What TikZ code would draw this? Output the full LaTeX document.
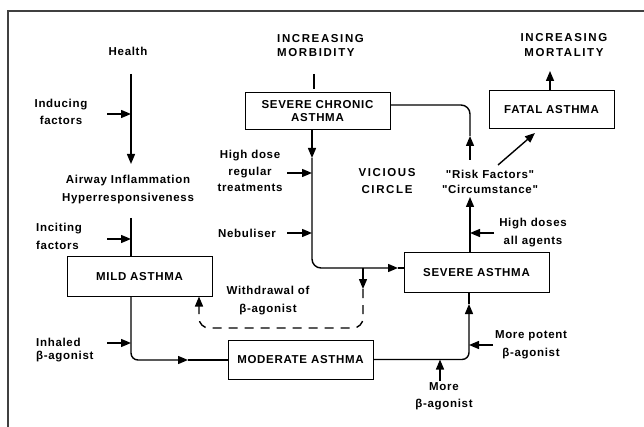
\documentclass[tikz,border=0pt]{standalone}
\usepackage{fontspec}
\setmainfont{Liberation Sans}[LetterSpace=6, Ligatures=TeXOff]
\newfontfamily\hdrfont{Liberation Sans}[LetterSpace=14, Ligatures=TeXOff]
\usetikzlibrary{arrows.meta}
\begin{document}
\begin{tikzpicture}[x=1pt,y=-1pt,
  lbl/.style={font=\fontsize{11.5}{#1}\selectfont\bfseries, inner sep=0pt, align=center},
  lbl/.default=17,
  hdr/.style={font=\hdrfont\fontsize{11.5}{#1}\selectfont\bfseries, inner sep=0pt, align=center},
  hdr/.default=15,
  box/.style={draw, line width=1pt, minimum width=145pt, minimum height=39pt, inner sep=0pt,
    align=center, font=\fontsize{11.5}{13}\selectfont\bfseries},
  ln/.style={line width=1.4pt},
  arr/.style={ln, -{Triangle[length=10pt,width=8pt]}},
  dsh/.style={ln, dash pattern=on 9pt off 7pt},
  frame/.style={line width=2pt, draw=black!75}
]
\useasboundingbox (0,0) rectangle (644,427);
\draw[frame] (8,427) -- (8,11) -- (644,11);

% text labels
\node[lbl] (health) at (128,51) {Health};
\node[lbl=18] (airway) at (128,190) {Airway Inflammation\\Hyperresponsiveness};
\node[lbl=17] (inducing) at (61,112) {Inducing\\factors};
\node[lbl=18, align=left, anchor=west] (inciting) at (36,236.5) {Inciting\\factors};
\node[lbl=13.5, align=left, anchor=west] (inhaled) at (36,350) {Inhaled\\β-agonist};
\node[hdr=14, align=left, anchor=west] (morb) at (277,46) {INCREASING\\MORBIDITY};
\node[hdr=15] (mort) at (564,45.5) {INCREASING\\MORTALITY};
\node[hdr=17] (vicious) at (387,181.5) {VICIOUS\\CIRCLE};
\node[lbl=16.5] (highdose) at (250,171) {High dose\\regular\\treatments};
\node[lbl] (nebu) at (247,233) {Nebuliser};
\node[lbl=18] (withdraw) at (268,300.5) {Withdrawal of\\β-agonist};
\node[lbl=17] (more) at (444,396) {More\\β-agonist};
\node[lbl=18] (potent) at (531,344.5) {More potent\\β-agonist};
\node[lbl=18] (hdoses) at (533,232.5) {High doses\\all agents};
\node[lbl=15] (risk) at (490,182) {"Risk Factors"\\"Circumstance"};

% boxes
\node[box, minimum height=37pt] (chronic) at (317.5,111.5) {SEVERE CHRONIC\\ASTHMA};
\node[box, minimum width=125pt, minimum height=38pt] (fatal) at (551.5,110) {FATAL ASTHMA};
\node[box] (mild) at (139.5,276.5) {MILD ASTHMA};
\node[box] (moderate) at (300.5,359.5) {MODERATE ASTHMA};
\node[box] (severe) at (476.5,272.5) {SEVERE ASTHMA};

% left column
\coordinate (h1) at (131,74);
\coordinate (h2) at (131,164);
\draw[arr] (h1) -- (h2);
\coordinate (i1) at (107,114);
\draw[arr] (i1) -- (i1 -| h1);
\coordinate (a1) at (131,218);
\draw[ln] (a1) -- (a1 |- mild.north);
\coordinate (c1) at (107,239);
\draw[arr] (c1) -- (c1 -| a1);
\coordinate (mm) at (188,360);
\draw[arr, rounded corners=7pt] (mild.south -| a1) |- (mm);
\draw[ln] (mm) -- (moderate.west |- mm);
\coordinate (n1) at (107,343);
\draw[arr] (n1) -- (n1 -| a1);

% moderate -> severe
\coordinate (ms1) at (469,304);
\draw[arr, rounded corners=7pt] (moderate.east) -| (ms1);
\draw[ln] (ms1) -- (ms1 |- severe.south);
\coordinate (mb) at (440,381);
\draw[arr] (mb) -- (mb |- moderate.east);
\coordinate (mp) at (493,345);
\draw[arr] (mp) -- (mp -| ms1);

% severe -> risk factors
\coordinate (s1) at (470,197);
\draw[arr] (severe.north -| s1) -- (s1);
\coordinate (hd) at (494,233);
\draw[arr] (hd) -- (hd -| s1);
\coordinate (r1) at (498,165);
\coordinate (r2) at (535,133);
\draw[arr] (r1) -- (r2);
\coordinate (r3) at (470,160);
\coordinate (r4) at (470,136);
\coordinate (r5) at (390,105);
\draw[arr] (r3) -- (r4);
\draw[ln, rounded corners=9pt] (r4) |- (chronic.east |- r5);
\coordinate (f1) at (550,71);
\draw[arr] (fatal.north -| f1) -- (f1);

% severe chronic
\coordinate (mk1) at (314,74);
\coordinate (mk2) at (314,89);
\draw[ln] (mk1) -- (mk2);
\coordinate (cd) at (312,158);
\draw[arr] (chronic.south -| cd) -- (cd);
\coordinate (cs) at (398,268);
\draw[arr, rounded corners=9pt] (cd) |- (cs);
\draw[ln] (cs) -- (severe.west |- cs);
\coordinate (hd1) at (287,173);
\draw[arr] (hd1) -- (hd1 -| cd);
\coordinate (nb) at (287,233);
\draw[arr] (nb) -- (nb -| cd);

% withdrawal (dashed)
\coordinate (d0) at (363,268);
\coordinate (d1) at (363,289);
\draw[arr] (d0) -- (d1);
\coordinate (d2) at (199,328);
\draw[dsh, rounded corners=10pt, -{Triangle[length=10pt,width=8pt]}] (d1) |- (d2) -- (d2 |- mild.south);
\end{tikzpicture}
\end{document}
